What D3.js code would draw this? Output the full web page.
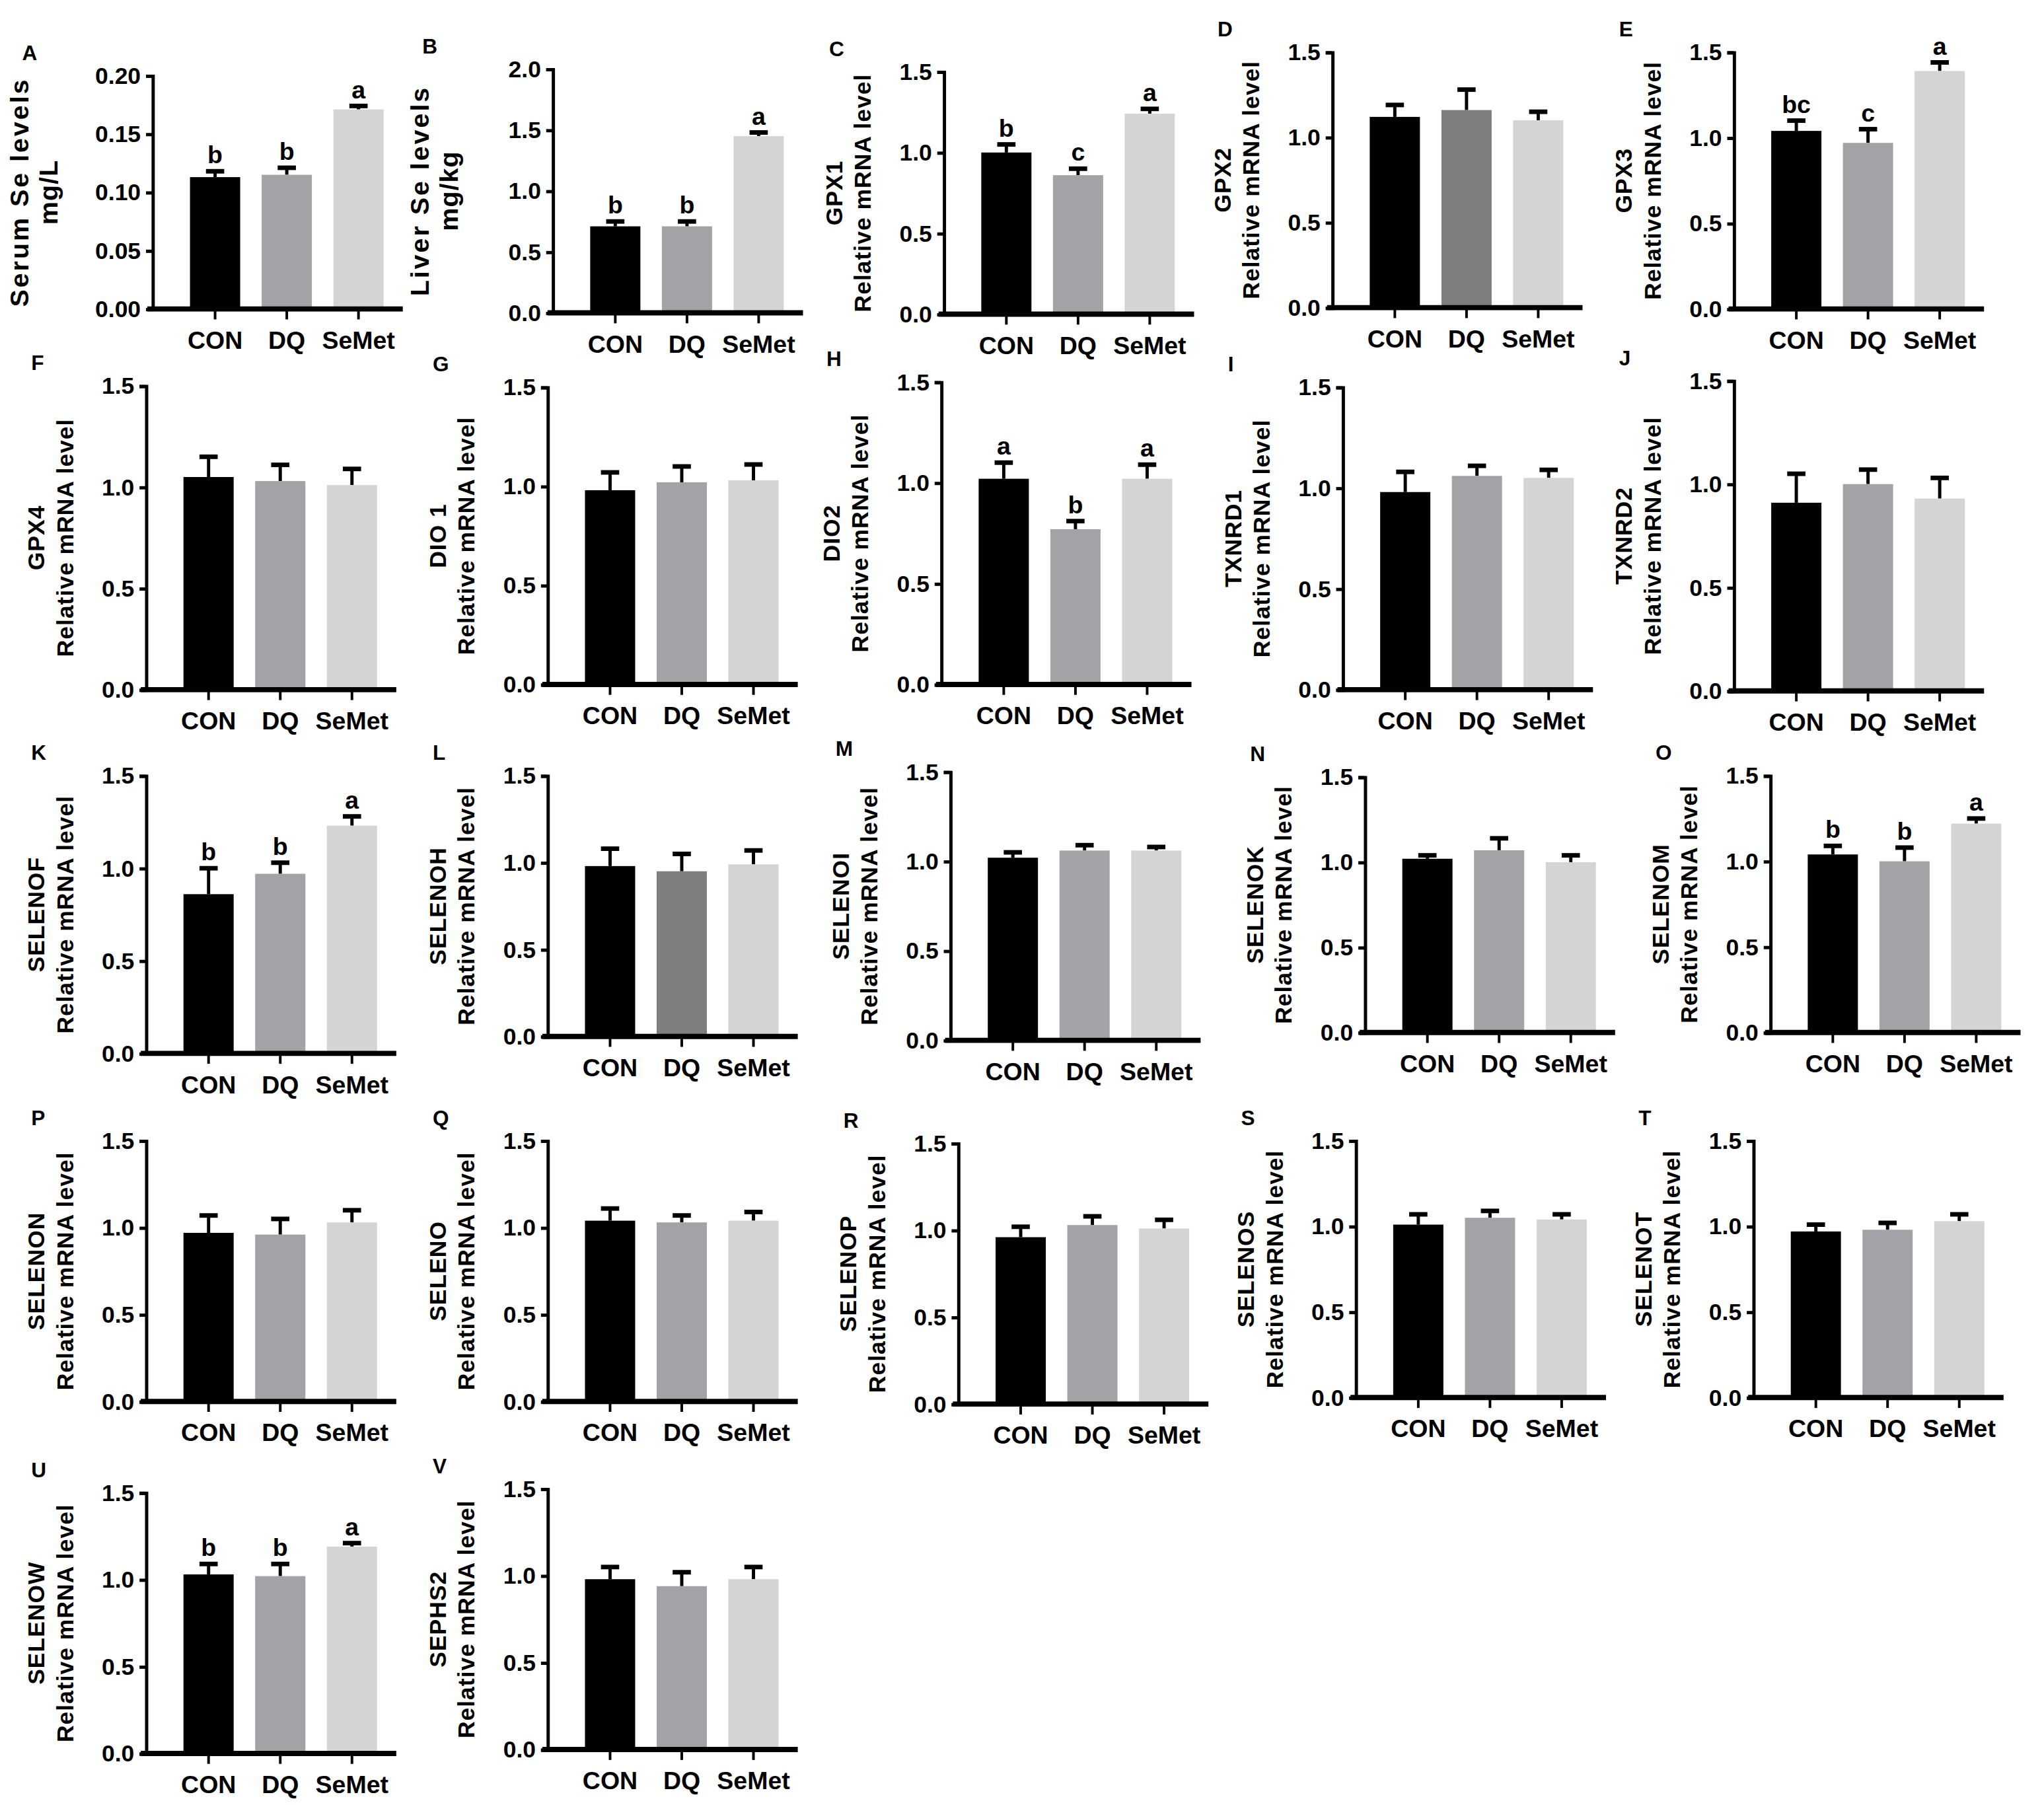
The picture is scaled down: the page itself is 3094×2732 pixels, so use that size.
<!DOCTYPE html>
<html>
<head>
<meta charset="utf-8">
<script src="https://cdn.jsdelivr.net/npm/d3@7"></script>
<style>
  body { margin: 0; background: #fff; }
  text { font-family: "Liberation Sans", Arial, sans-serif; font-weight: bold; }
</style>
</head>
<body>
<svg id="fig" width="3094" height="2732"></svg>
<script>
// data
var groups = ["CON", "DQ", "SeMet"];
var panelIds = ["A","B","C","D","E","F","G","H","I","J","K","L","M","N","O","P","Q","R","S","T","U","V"];
var geneNames = ["Serum Se levels","Liver Se levels","GPX1","GPX2","GPX3","GPX4","DIO 1","DIO2","TXNRD1","TXNRD2",
  "SELENOF","SELENOH","SELENOI","SELENOK","SELENOM","SELENON","SELENO","SELENOP","SELENOS","SELENOT","SELENOW","SEPHS2"];
var unitLabels = ["mg/L","mg/kg"];
var yMax = [0.20, 2.0, 1.5,1.5,1.5,1.5,1.5,1.5,1.5,1.5,1.5,1.5,1.5,1.5,1.5,1.5,1.5,1.5,1.5,1.5,1.5,1.5];
var yTicks = [[0,0.05,0.10,0.15,0.20],[0,0.5,1.0,1.5,2.0]];
var defaultTicks = [0,0.5,1.0,1.5];
var means = [
  [0.113,0.115,0.171],[0.71,0.71,1.45],[1.00,0.86,1.24],[1.12,1.16,1.10],[1.04,0.97,1.39],
  [1.05,1.03,1.01],[0.98,1.02,1.03],[1.02,0.77,1.02],[0.98,1.06,1.05],[0.91,1.00,0.93],
  [0.86,0.97,1.23],[0.98,0.95,0.99],[1.02,1.06,1.06],[1.02,1.07,1.00],[1.04,1.00,1.22],
  [0.97,0.96,1.03],[1.04,1.03,1.04],[0.96,1.03,1.01],[1.01,1.05,1.04],[0.97,0.98,1.03],
  [1.03,1.02,1.19],[0.98,0.94,0.98]];
var sems = [
  [0.005,0.006,0.003],[0.04,0.04,0.03],[0.05,0.04,0.03],[0.07,0.12,0.05],[0.06,0.08,0.05],
  [0.10,0.08,0.08],[0.09,0.08,0.08],[0.08,0.04,0.07],[0.10,0.05,0.04],[0.14,0.07,0.10],
  [0.14,0.06,0.05],[0.10,0.10,0.08],[0.03,0.03,0.02],[0.02,0.07,0.04],[0.05,0.08,0.03],
  [0.10,0.09,0.07],[0.07,0.04,0.05],[0.06,0.05,0.05],[0.06,0.04,0.03],[0.04,0.04,0.04],
  [0.06,0.07,0.02],[0.07,0.08,0.07]];
var sigLetters = {A:["b","b","a"], B:["b","b","a"], C:["b","c","a"], E:["bc","c","a"], H:["a","b","a"],
  K:["b","b","a"], O:["b","b","a"], U:["b","b","a"]};
var barColors = ["#000000","#a2a2a7","#d4d4d4"];
var darkDQ = ["D","L"];

// panel placement in 1568-wide design units
var colX = [[117,424,724,1022,1330],[112,420,722,1030,1330],[112,420,729,1047,1358],[112,420,735,1040,1345],[112,420]];
var rowY = [[[58,237],[53,240],[55,241],[40,236],[40,237]],
            [[296,529],[297,525],[293,525],[297,529],[292,530]],
            [[595,808],[595,795],[592,798],[596,792],[595,792]],
            [[875,1075],[875,1075],[877,1077],[875,1072],[875,1072]],
            [[1145,1345],[1142,1342]]];

var k = 3094 / 1568;
var root = d3.select("#fig").append("g").attr("transform", "scale(" + k + ")");

panelIds.forEach(function(id, i){
  var r = i < 20 ? Math.floor(i / 5) : 4, c = i < 20 ? i % 5 : i - 20;
  var x0 = colX[r][c], top = rowY[r][c][0], bot = rowY[r][c][1];
  var g = root.append("g").attr("transform", "translate(" + x0 + ",0)");

  var y = d3.scaleLinear().domain([0, yMax[i]]).range([bot, top]);
  var x = d3.scaleBand().domain(groups).range([26, 180]).paddingInner(0.3).paddingOuter(0.05);

  var ticks = i < 2 ? yTicks[i] : defaultTicks;
  var fmt = i === 0 ? d3.format(".2f") : d3.format(".1f");

  // bars
  groups.forEach(function(gr, j){
    var col = barColors[j];
    if (j === 1 && darkDQ.indexOf(id) >= 0) col = "#7e7e7e";
    var v = means[i][j], e = sems[i][j];
    var cx = x(gr) + x.bandwidth() / 2;
    g.append("line").attr("x1", cx).attr("x2", cx).attr("y1", y(v)).attr("y2", y(v + e))
      .attr("stroke", "#000").attr("stroke-width", 2.5);
    g.append("line").attr("x1", cx - 7).attr("x2", cx + 7).attr("y1", y(v + e)).attr("y2", y(v + e))
      .attr("stroke", "#000").attr("stroke-width", 3.5);
    g.append("rect").attr("x", x(gr)).attr("width", x.bandwidth())
      .attr("y", y(v)).attr("height", bot - y(v)).attr("fill", col);
    if (sigLetters[id]) {
      g.append("text").attr("x", cx).attr("y", y(v + e) - 6).attr("text-anchor", "middle")
        .attr("font-size", 19).text(sigLetters[id][j]);
    }
  });

  // y axis
  var yAxis = d3.axisLeft(y).tickValues(ticks).tickFormat(fmt).tickSize(5).tickPadding(4);
  var ya = g.append("g").call(yAxis);
  ya.select(".domain").attr("stroke-width", 2.5);
  ya.selectAll(".tick line").attr("stroke-width", 2.5);
  ya.selectAll("text").attr("font-size", 18).attr("fill", "#000")
    .attr("font-family", "Liberation Sans Narrow, Liberation Sans");

  // x axis
  var xa = g.append("g").attr("transform", "translate(0," + bot + ")")
    .call(d3.axisBottom(x).tickSize(8).tickPadding(9));
  xa.select(".domain").attr("d", "M-4,0H192").attr("stroke-width", 4);
  xa.selectAll(".tick line").attr("stroke-width", 2);
  xa.selectAll("text").attr("font-size", 19).attr("fill", "#000")
    .attr("font-family", "Liberation Sans Narrow, Liberation Sans");

  // axis titles
  var mid = (top + bot) / 2;
  var off1 = i < 2 ? -95 : -78, off2 = i < 2 ? -73 : -56;
  g.append("text").attr("transform", "translate(" + off1 + "," + mid + ") rotate(-90)")
    .attr("text-anchor", "middle").attr("font-size", i < 2 ? 20 : 18).attr("letter-spacing", i < 2 ? 1.5 : 0.5)
    .text(geneNames[i]);
  g.append("text").attr("transform", "translate(" + off2 + "," + mid + ") rotate(-90)")
    .attr("text-anchor", "middle").attr("font-size", i < 2 ? 20 : 18).attr("letter-spacing", 0.5)
    .text(i < 2 ? unitLabels[i] : "Relative mRNA level");

  // panel letter
  g.append("text").attr("x", i < 2 ? -100 : -88).attr("y", top - 12)
    .attr("font-size", 16).attr("font-weight", "normal").text(id);
});
</script>
</body>
</html>
